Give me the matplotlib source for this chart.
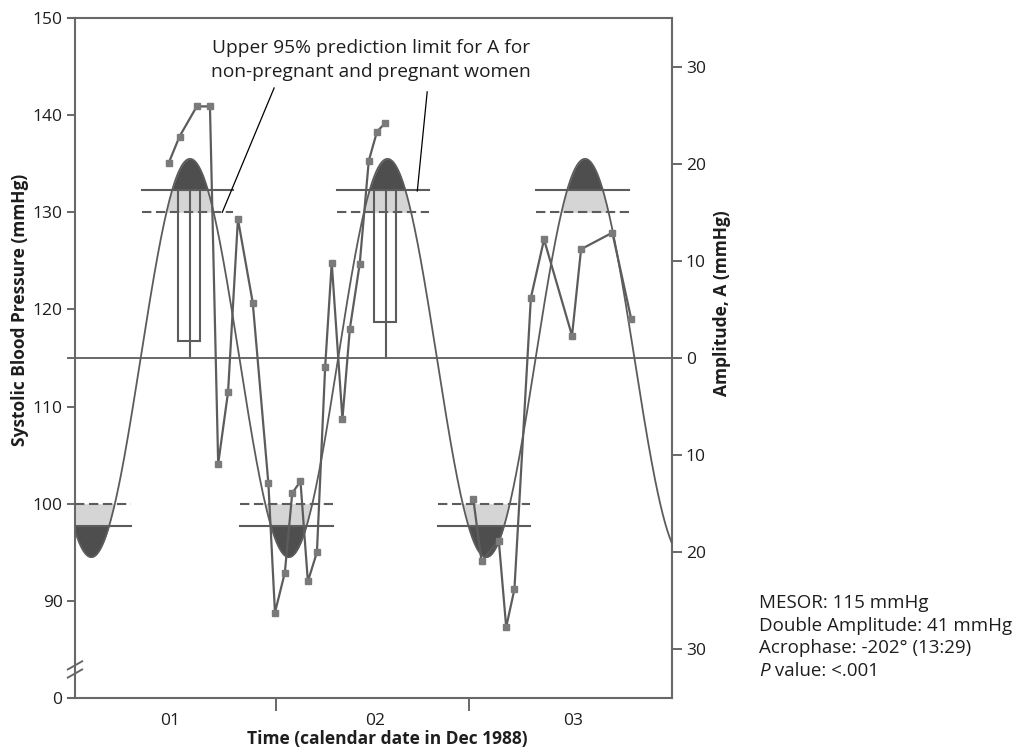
import numpy as np
import matplotlib
matplotlib.use("Agg")
import matplotlib.pyplot as plt
from matplotlib.patches import Rectangle

plt.rcParams['font.family'] = ['Open Sans', 'DejaVu Sans']

# ---------------- data (hours from 1 Dec 1988 00:00, systolic BP mmHg) -------------
seg1_hours = [10.9, 12.2, 14.3, 15.9, 16.9, 18.1, 19.3, 21.1, 23.0, 23.8, 25.0, 25.9,
              26.9, 27.8, 28.9, 29.9, 30.7, 32.0, 32.9, 34.1, 35.2, 36.2, 37.2]
seg1_bp = [135.1, 137.8, 140.9, 140.9, 104.1, 111.5, 129.3, 120.7, 102.1, 88.8, 92.9, 101.1,
           102.3, 92.0, 95.0, 114.1, 124.8, 108.7, 118.0, 124.7, 135.3, 138.3, 139.2]
seg2_hours = [47.9, 48.9, 51.0, 51.9, 52.9, 54.9, 56.5, 59.9, 61.0, 64.8, 67.1]
seg2_bp = [100.5, 94.1, 96.2, 87.3, 91.2, 121.2, 127.2, 117.3, 126.2, 127.9, 119.0]

# cosinor fit
MESOR = 115.0
AMPLITUDE = 20.5          # double amplitude 41 mmHg
ACROPHASE_H = 13.48       # 13:29
PERIOD_H = 24.0

# upper 95% prediction limits for A
limit_solid = 17.3
limit_dashed = 15.0
peak_windows = [(7.6, 18.7), (31.3, 42.5), (55.5, 66.8)]
trough_windows = [(-0.5, 6.3), (19.6, 30.9), (43.6, 54.8)]

# acrophase / amplitude confidence boxes
box_left = [12.0, 35.8]
box_right = [14.7, 38.5]
box_bottom = [116.7, 118.7]
box_center = [13.49, 37.3]

xtick_major = [23.9, 47.4]
day_label_pos = [11.0, 36.0, 60.0]
day_labels = ['01', '02', '03']
left_ticks = [80, 90, 100, 110, 120, 130, 140, 150]
left_labels = ['0', '90', '100', '110', '120', '130', '140', '150']
right_ticks = [85, 95, 105, 115, 125, 135, 145]
right_labels = ['30', '20', '10', '0', '10', '20', '30']

XLIM = (-0.5, 72.05)
YLIM = (80, 150)

# ---------------- styling ---------------
LINE = '#5c5c5c'
MARK = '#7a7a7a'
DARK = '#4e4e4e'
LIGHT = '#d5d5d5'
SPINE = '#686868'
TXT = '#1e1e1e'
FS = 12.5
FS_NOTE = 13.8
FS_STATS = 13.5

fig = plt.figure(figsize=(10.2, 7.52), dpi=100)
ax = fig.add_axes([75 / 1020, 54 / 752, 597 / 1020, 680 / 752])
ax.set_xlim(*XLIM)
ax.set_ylim(*YLIM)


def curve(t):
    return MESOR + AMPLITUDE * np.cos(2 * np.pi * (t - ACROPHASE_H) / PERIOD_H)


up_s, up_d = MESOR + limit_solid, MESOR + limit_dashed
lo_s, lo_d = MESOR - limit_solid, MESOR - limit_dashed

# fills and limit lines
for (a, b) in peak_windows:
    tt = np.linspace(a, b, 400)
    yc = curve(tt)
    ax.fill_between(tt, up_d, np.minimum(yc, up_s), where=yc > up_d, interpolate=True,
                    color=LIGHT, lw=0, zorder=1)
    ax.fill_between(tt, up_s, yc, where=yc > up_s, interpolate=True, color=DARK, lw=0, zorder=1)
    ax.plot([a, b], [up_s, up_s], color=LINE, lw=1.5, zorder=3)
    ax.plot([a, b], [up_d, up_d], color=LINE, lw=1.5, ls=(0, (4.5, 2.2)), zorder=3)
for (a, b) in trough_windows:
    tt = np.linspace(a, b, 400)
    yc = curve(tt)
    ax.fill_between(tt, np.maximum(yc, lo_s), lo_d, where=yc < lo_d, interpolate=True,
                    color=LIGHT, lw=0, zorder=1)
    ax.fill_between(tt, yc, lo_s, where=yc < lo_s, interpolate=True, color=DARK, lw=0, zorder=1)
    ax.plot([a, b], [lo_s, lo_s], color=LINE, lw=1.5, zorder=3, clip_on=True)
    ax.plot([a, b], [lo_d, lo_d], color=LINE, lw=1.5, ls=(0, (4.5, 2.2)), zorder=3)

# boxes
for l, r, bt, c in zip(box_left, box_right, box_bottom, box_center):
    ax.add_patch(Rectangle((l, bt), r - l, up_s - bt, fill=False, ec=LINE, lw=1.5, zorder=2))
    ax.plot([c, c], [MESOR, up_s], color=LINE, lw=1.5, zorder=2)

# mesor line
ax.plot([-0.012, 1.012], [MESOR, MESOR], color=SPINE, lw=1.4,
        transform=ax.get_yaxis_transform(), clip_on=False, zorder=2)

# cosine curve
tt = np.linspace(XLIM[0], XLIM[1], 1500)
ax.plot(tt, curve(tt), color=LINE, lw=1.3, zorder=4)

# data
for h, v in [(seg1_hours, seg1_bp), (seg2_hours, seg2_bp)]:
    ax.plot(h, v, color=LINE, lw=1.6, zorder=5)
    ax.plot(h, v, ls='none', marker='s', ms=4.5, color=MARK, mec=MARK, zorder=6)

# spines & ticks
for s in ax.spines.values():
    s.set_color(SPINE)
    s.set_linewidth(1.5)
ax.set_yticks(left_ticks)
ax.set_yticklabels(left_labels)
ax.tick_params(axis='y', direction='out', length=6, width=1.4, color=SPINE,
               labelsize=FS, labelcolor=TXT, pad=3)
ax.set_xticks(xtick_major)
ax.set_xticklabels(['', ''])
ax.set_xticks(day_label_pos, minor=True)
ax.set_xticklabels(day_labels, minor=True)
ax.tick_params(axis='x', which='major', direction='out', length=9, width=1.4, color=SPINE)
ax.tick_params(axis='x', which='minor', length=0, labelsize=FS, labelcolor=TXT, pad=11)

ax2 = ax.twinx()
ax2.set_ylim(*YLIM)
ax2.set_yticks(right_ticks)
ax2.set_yticklabels(right_labels)
ax2.tick_params(axis='y', direction='out', length=7, width=1.4, color=SPINE,
                labelsize=FS, labelcolor=TXT, pad=3)
for s in ax2.spines.values():
    s.set_visible(False)

# extend top and bottom spines slightly to the left
ax.plot([-0.012, 0], [1, 1], transform=ax.transAxes, color=SPINE, lw=1.5, clip_on=False)
ax.plot([-0.012, 0], [0, 0], transform=ax.transAxes, color=SPINE, lw=1.5, clip_on=False)

# axis break marks
for dy in (-0.006, 0.006):
    ax.plot([-0.012, 0.012], [0.042 + dy - 0.006, 0.042 + dy + 0.006],
            transform=ax.transAxes, color=SPINE, lw=1.4, clip_on=False)

# labels
fig.text(20 / 1020, 1 - 310 / 752, 'Systolic Blood Pressure (mmHg)', rotation=90,
         ha='center', va='center', fontsize=FS, fontweight='bold', color=TXT)
fig.text(722 / 1020, 1 - 303 / 752, 'Amplitude, A (mmHg)', rotation=90,
         ha='center', va='center', fontsize=FS, fontweight='bold', color=TXT)
fig.text(387 / 1020, 1 - 739 / 752, 'Time (calendar date in Dec 1988)',
         ha='center', va='center', fontsize=FS, fontweight='bold', color=TXT)

# annotation
ax.text(35.5, 146.9, 'Upper 95% prediction limit for A for', ha='center', va='center',
        fontsize=FS_NOTE, color=TXT, zorder=7)
ax.text(35.5, 144.4, 'non-pregnant and pregnant women', ha='center', va='center',
        fontsize=FS_NOTE, color=TXT, zorder=7)
ax.plot([23.7, 17.4], [142.8, 130.0], color='black', lw=0.9, zorder=7)
ax.plot([42.3, 41.1], [142.4, 132.2], color='black', lw=0.9, zorder=7)

# stats text
stats = ['MESOR: 115 mmHg', 'Double Amplitude: 41 mmHg', 'Acrophase: -202\u00b0 (13:29)']
for i, s in enumerate(stats):
    fig.text(759 / 1020, 1 - (603 + 22.7 * i) / 752, s, ha='left', va='center',
             fontsize=FS_STATS, color=TXT)
p = fig.text(759 / 1020, 1 - (603 + 22.7 * 3) / 752, 'P', ha='left', va='center',
             fontsize=FS_STATS, color=TXT, style='italic')
fig.canvas.draw()
bb = p.get_window_extent()
fig.text(bb.x1 / 1020, 1 - (603 + 22.7 * 3) / 752, ' value: <.001', ha='left', va='center',
         fontsize=FS_STATS, color=TXT)

fig.savefig('out.png', dpi=100)
